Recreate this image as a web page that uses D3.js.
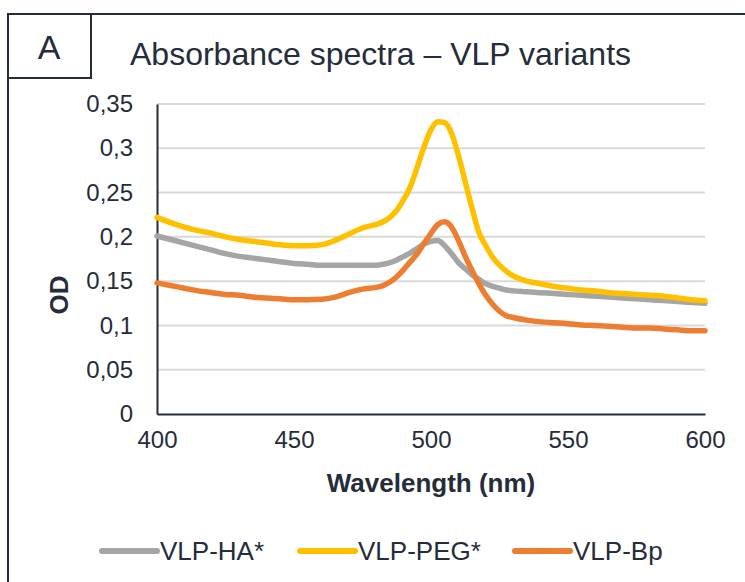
<!DOCTYPE html>
<html>
<head>
<meta charset="utf-8">
<script src="https://cdn.jsdelivr.net/npm/d3@7"></script>
<style>
  html, body { margin: 0; padding: 0; background: #fff; }
  svg { display: block; font-family: "Liberation Sans", Arial, sans-serif; }
</style>
</head>
<body>
<svg id="chart" width="745" height="582"></svg>
<script>
const wavelengths = [400,405,410,415,420,425,430,435,440,445,450,455,460,465,470,475,480,
  482.5,485,487.5,490,492.5,495,497.5,500,502.5,505,507.5,510,512.5,515,517.5,520,522.5,525,527.5,530,
  535,540,545,550,555,560,565,570,575,580,585,590,595,600];

const vlpHA = [0.201,0.197,0.193,0.189,0.185,0.181,0.178,0.176,0.174,0.172,0.170,0.169,0.168,0.168,0.168,0.168,0.168,
  0.169,0.171,0.174,0.178,0.182,0.187,0.192,0.195,0.196,0.190,0.181,0.171,0.164,0.157,0.152,0.147,0.144,0.142,0.140,0.139,
  0.138,0.137,0.136,0.135,0.134,0.133,0.132,0.131,0.130,0.129,0.128,0.127,0.126,0.125];

const vlpPEG = [0.222,0.216,0.211,0.207,0.204,0.200,0.197,0.195,0.193,0.191,0.190,0.190,0.191,0.196,0.203,0.210,0.214,
  0.217,0.222,0.230,0.242,0.257,0.279,0.302,0.321,0.330,0.329,0.317,0.292,0.262,0.232,0.205,0.190,0.177,0.168,0.161,0.156,
  0.150,0.147,0.144,0.142,0.140,0.139,0.137,0.136,0.135,0.134,0.133,0.131,0.129,0.128];

const vlpBp = [0.148,0.145,0.142,0.139,0.137,0.135,0.134,0.132,0.131,0.130,0.129,0.129,0.1295,0.132,0.137,0.141,0.143,
  0.145,0.149,0.155,0.163,0.172,0.181,0.193,0.204,0.214,0.217,0.211,0.196,0.178,0.162,0.147,0.134,0.124,0.116,0.111,0.109,
  0.106,0.104,0.103,0.102,0.1005,0.100,0.099,0.098,0.097,0.097,0.096,0.095,0.094,0.094];

const seriesNames = ["VLP-HA*", "VLP-PEG*", "VLP-Bp"];
const seriesColors = ["#a5a5a5", "#ffc000", "#ed7d31"];
const yTicks = [0, 0.05, 0.1, 0.15, 0.2, 0.25, 0.3, 0.35];
const xTicks = [400, 450, 500, 550, 600];
const titleText = "Absorbance spectra \u2013 VLP variants";
const panelLabel = "A";
const xTitle = "Wavelength (nm)";
const yTitle = "OD";

const ink = "#252c3a";
const svg = d3.select("#chart");

// outer frame
svg.append("path").attr("d", "M8,600 L8,14 L760,14")
  .attr("fill", "none").attr("stroke", ink).attr("stroke-width", 2);
// panel label box
svg.append("rect").attr("x", 8).attr("y", 14).attr("width", 83).attr("height", 64)
  .attr("fill", "#fff").attr("stroke", ink).attr("stroke-width", 2);
svg.append("text").attr("x", 49).attr("y", 59).attr("text-anchor", "middle")
  .attr("font-size", 34).attr("fill", ink).text(panelLabel);

// title
svg.append("text").attr("x", 130).attr("y", 65).attr("font-size", 32).attr("fill", ink).text(titleText);

const x = d3.scaleLinear().domain([400, 600]).range([157, 705]);
const y = d3.scaleLinear().domain([0, 0.35]).range([414, 104]);

// gridlines
svg.append("g").selectAll("line").data(yTicks.filter(d => d > 0)).join("line")
  .attr("x1", x(400)).attr("x2", x(600))
  .attr("y1", d => y(d)).attr("y2", d => y(d))
  .attr("stroke", "#d9d9d9").attr("stroke-width", 2);

// axes
const fmt = d => String(d).replace(".", ",");
const yAxis = svg.append("g").attr("transform", `translate(${x(400)},0)`)
  .call(d3.axisLeft(y).tickValues(yTicks).tickFormat(fmt).tickSize(0).tickPadding(24));
yAxis.select(".domain").attr("stroke", ink).attr("stroke-width", 2);
yAxis.selectAll("text").attr("font-size", 24).attr("fill", ink)
  .attr("font-family", "Liberation Sans, Arial, sans-serif");

const xAxis = svg.append("g").attr("transform", `translate(0,${y(0)})`)
  .call(d3.axisBottom(x).tickValues(xTicks).tickFormat(d3.format("d")).tickSize(0).tickPadding(17));
xAxis.select(".domain").attr("stroke", ink).attr("stroke-width", 2);
xAxis.selectAll("text").attr("font-size", 24).attr("fill", ink)
  .attr("font-family", "Liberation Sans, Arial, sans-serif");

// axis titles
svg.append("text").attr("x", 431).attr("y", 492).attr("text-anchor", "middle")
  .attr("font-size", 26).attr("font-weight", "bold").attr("fill", ink).text(xTitle);
svg.append("text").attr("transform", "translate(68,295) rotate(-90)").attr("text-anchor", "middle")
  .attr("font-size", 26).attr("font-weight", "bold").attr("fill", ink).text(yTitle);

// lines
const allSeries = [vlpHA, vlpPEG, vlpBp];
const line = d3.line().x((d, i) => x(wavelengths[i])).y(d => y(d)).curve(d3.curveMonotoneX);
svg.append("g").selectAll("path").data(allSeries).join("path")
  .attr("d", d => line(d))
  .attr("fill", "none")
  .attr("stroke", (d, i) => seriesColors[i])
  .attr("stroke-width", 5.5)
  .attr("stroke-linejoin", "round")
  .attr("stroke-linecap", "round");

// legend
const legendX = [102, 300, 515];
const lg = svg.append("g").selectAll("g").data(seriesNames).join("g")
  .attr("transform", (d, i) => `translate(${legendX[i]},551)`);
lg.append("line").attr("x1", 0).attr("x2", 55).attr("y1", 0).attr("y2", 0)
  .attr("stroke", (d, i) => seriesColors[i]).attr("stroke-width", 6).attr("stroke-linecap", "round");
lg.append("text").attr("x", 58).attr("y", 9).attr("font-size", 26).attr("fill", ink).text(d => d);
</script>
</body>
</html>
